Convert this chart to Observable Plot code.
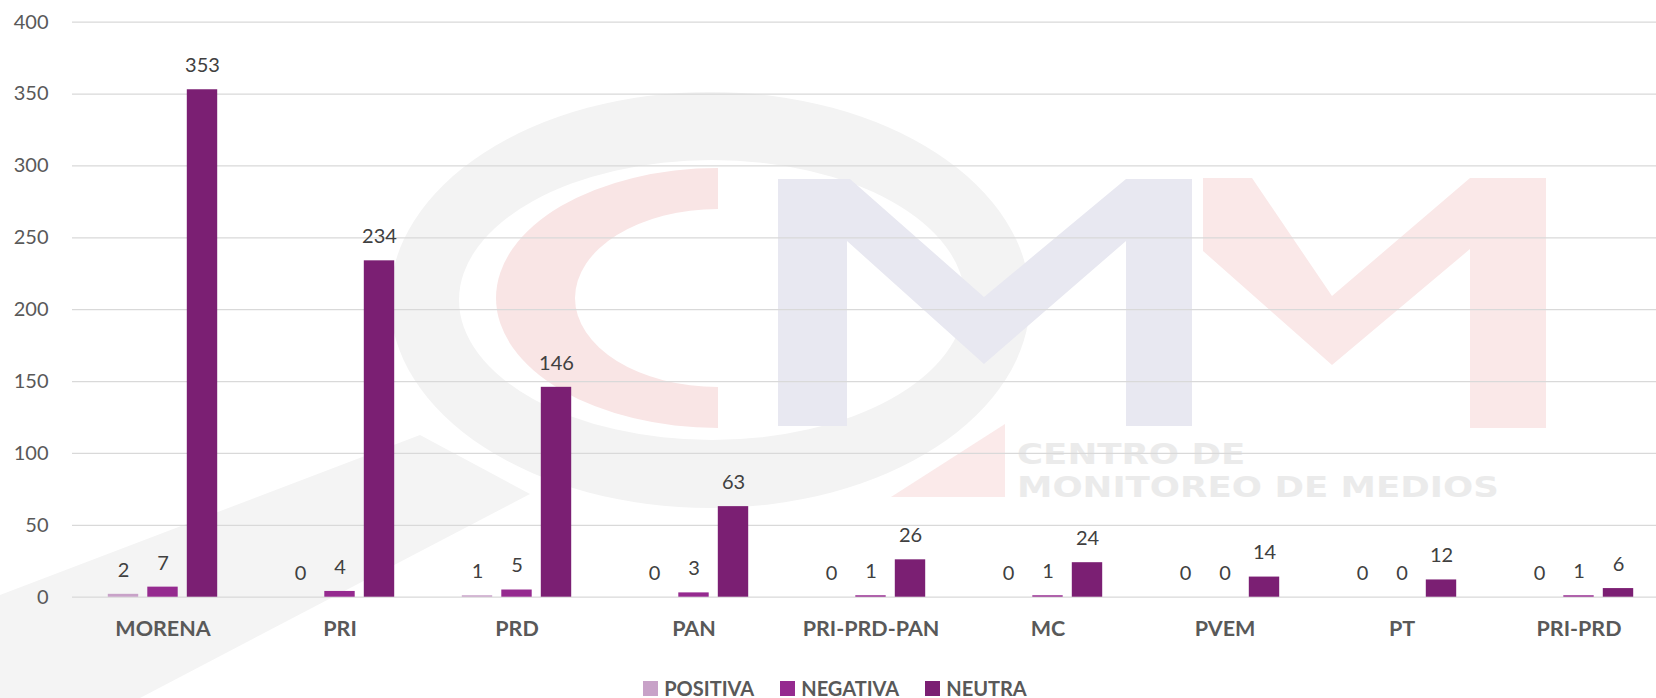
<!DOCTYPE html>
<html>
<head>
<meta charset="utf-8">
<script src="https://cdn.jsdelivr.net/npm/d3@7"></script>
<script src="https://cdn.jsdelivr.net/npm/@observablehq/plot@0.6"></script>
<style>
  html, body { margin: 0; padding: 0; background: #fff; overflow: hidden; }
  #wrap { position: relative; width: 1656px; height: 698px; }
  #bg { position: absolute; left: 0; top: 0; z-index: 0; }
  .wm { position: absolute; left: 1017px; font-family: "DejaVu Sans", sans-serif; font-weight: bold; color: #ebebeb; font-size: 28px; line-height: 28px; transform-origin: 0 0; transform: scaleX(1.27); white-space: nowrap; z-index: 0; }
  #chart { position: absolute; left: 0; top: 0; z-index: 1; }
  #legend { position: absolute; left: 0; top: 676px; width: 1656px; display: flex; justify-content: center; padding-left: 14px; box-sizing: border-box; gap: 26px; font-family: Lato, "Open Sans", sans-serif; font-weight: bold; font-size: 20px; color: #595959; z-index: 1; }
  #legend .item { display: flex; align-items: center; gap: 6px; }
  #legend .sw { width: 15px; height: 15px; display: inline-block; }
</style>
</head>
<body>
<div id="wrap">
  <svg id="bg" width="1656" height="698" viewBox="0 0 1656 698">
    <defs><clipPath id="leftHalf"><rect x="0" y="0" width="718" height="698"/></clipPath></defs>
    <polygon points="420,435 530,494 140,698 0,698 0,595" fill="#f4f4f4"/>
    <ellipse cx="710" cy="300" rx="320" ry="208" fill="#f3f3f3"/>
    <ellipse cx="712" cy="300" rx="253" ry="140" fill="#ffffff"/>
    <g clip-path="url(#leftHalf)">
      <ellipse cx="718" cy="298" rx="222" ry="130" fill="#f9e5e5"/>
      <ellipse cx="718" cy="298" rx="143" ry="89" fill="#ffffff"/>
    </g>
    <polygon points="778,179 850,179 984,297 1126,179 1192,179 1192,426 1126,426 1126,241 984,364 847,241 847,426 778,426" fill="#e8e8f1"/>
    <polygon points="1203,178 1252,178 1332,296 1470,178 1546,178 1546,428 1470,428 1470,249 1332,365 1203,251" fill="#fae8e8"/>
    <polygon points="1005,424 1005,497 891,497" fill="#fbeaea"/>
  </svg>
  <div class="wm" style="top:440.5px">CENTRO DE</div>
  <div class="wm" style="top:473.5px">MONITOREO DE MEDIOS</div>
  <div id="chart"></div>
  <div id="legend"></div>
</div>
<script>
const categories = ["MORENA", "PRI", "PRD", "PAN", "PRI-PRD-PAN", "MC", "PVEM", "PT", "PRI-PRD"];
const positiva = [2, 0, 1, 0, 0, 0, 0, 0, 0];
const negativa = [7, 4, 5, 3, 1, 1, 0, 0, 1];
const neutra = [353, 234, 146, 63, 26, 24, 14, 12, 6];
const seriesNames = ["POSITIVA", "NEGATIVA", "NEUTRA"];
const seriesColors = ["#C8A2C8", "#952A8F", "#7B1F73"];
const yTicks = [0, 50, 100, 150, 200, 250, 300, 350, 400];

const seriesValues = [positiva, negativa, neutra];
const offsets = [-39.5, 0, 39.5];

const marks = [
  Plot.ruleY(yTicks, {stroke: "#d9d9d9", strokeWidth: 1.3})
];
seriesNames.forEach((name, s) => {
  const rows = categories.map((c, i) => ({cat: c, value: seriesValues[s][i]}));
  marks.push(Plot.barY(rows, {
    x: "cat", y: "value", fill: seriesColors[s],
    insetLeft: 73.3, insetRight: 73.3, dx: offsets[s]
  }));
  marks.push(Plot.text(rows, {
    x: "cat", y: "value", text: d => String(d.value),
    dx: offsets[s], dy: -24, lineAnchor: "middle",
    fill: "#404040", fontSize: 20, fontFamily: "Lato, 'Open Sans', sans-serif"
  }));
});
marks.push(Plot.axisY({ticks: yTicks, tickSize: 0, tickPadding: 24, tickFormat: d => String(d), fontSize: 20, fill: "#595959", label: null}));
marks.push(Plot.axisX({tickSize: 0, tickPadding: 24, fontSize: 21.5, fontWeight: "bold", fill: "#595959", label: null}));

const chart = Plot.plot({
  width: 1656,
  height: 660,
  marginLeft: 72,
  marginRight: -13,
  marginTop: 21.7,
  marginBottom: 63.3,
  style: {background: "transparent", fontFamily: "Lato, 'Open Sans', sans-serif", overflow: "visible"},
  x: {domain: categories, padding: 0, label: null},
  y: {domain: [0, 400], label: null},
  marks
});
document.getElementById("chart").appendChild(chart);

const legend = document.getElementById("legend");
seriesNames.forEach((name, s) => {
  const item = document.createElement("div");
  item.className = "item";
  const sw = document.createElement("span");
  sw.className = "sw";
  sw.style.background = seriesColors[s];
  const t = document.createElement("span");
  t.textContent = name;
  item.appendChild(sw);
  item.appendChild(t);
  legend.appendChild(item);
});
</script>
</body>
</html>
